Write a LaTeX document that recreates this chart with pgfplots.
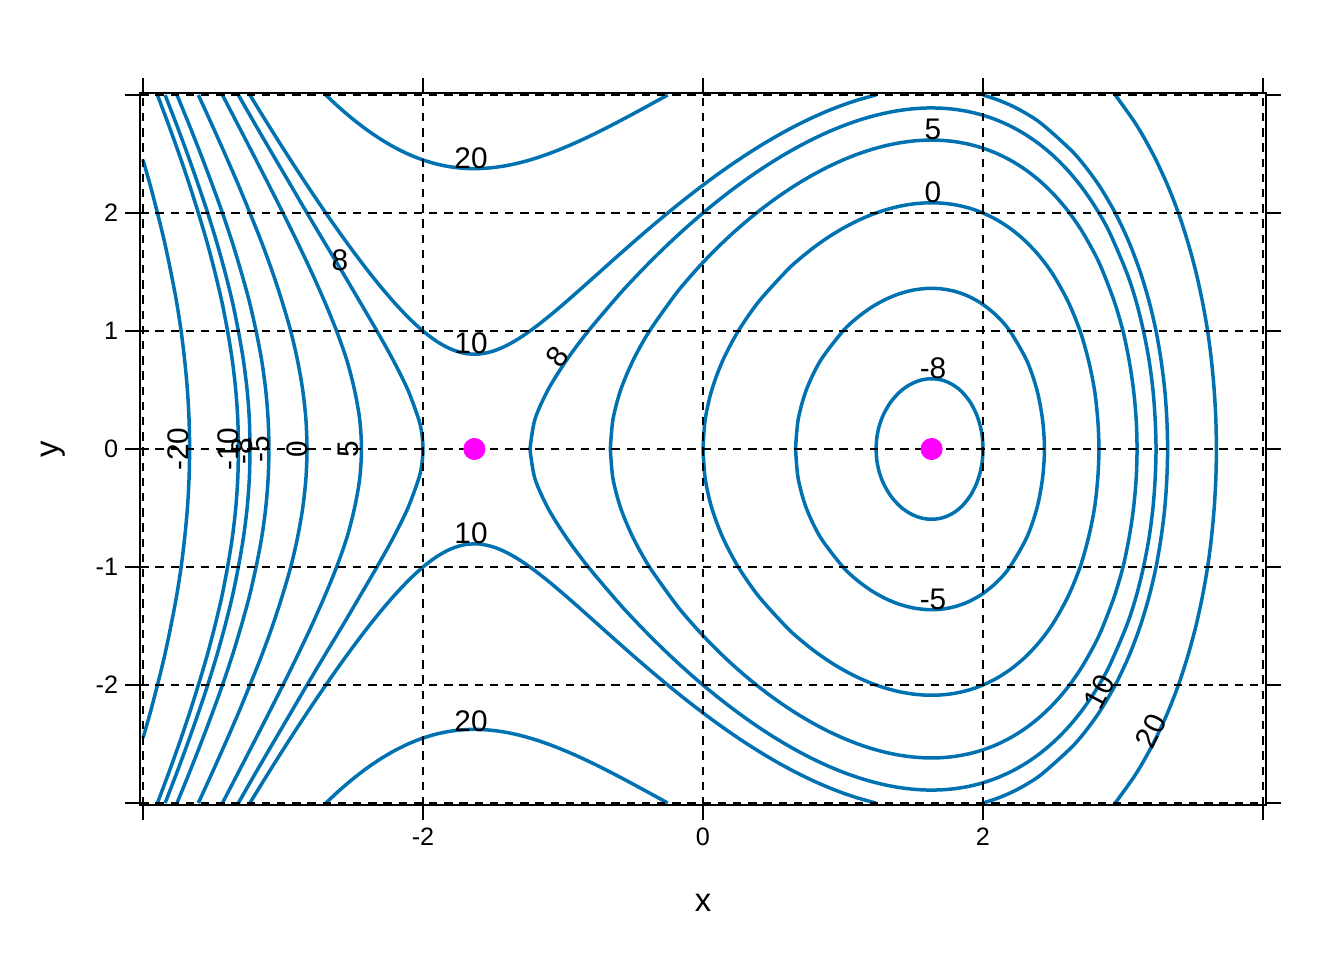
\documentclass[border=0pt]{standalone}
\usepackage{fontspec}
\setmainfont{Liberation Sans}
\usepackage{pgfplots}
\pgfplotsset{compat=1.18}
\definecolor{cblue}{HTML}{0072B2}
\definecolor{pmag}{RGB}{255,0,255}
\newcommand{\clab}{\fontsize{14.9}{16}\selectfont}
\begin{document}
\begin{tikzpicture}
\begin{axis}[
  at={(-281.4pt,-178.18pt)}, anchor=south west,
  x=70pt, y=59pt,
  xmin=-4.02, xmax=4.02, ymin=-3.02, ymax=3.02,
  axis on top,
  axis line style={black, line width=1pt},
  xtick={-4,-2,0,2,4}, xticklabels={,-2,0,2,},
  ytick={-3,-2,-1,0,1,2,3}, yticklabels={,-2,-1,0,1,2,},
  tick align=outside, tick pos=both,
  major tick length=7.5pt,
  every tick/.style={black, line width=1pt},
  grid=major,
  major grid style={black, line width=0.95pt, dash pattern=on 4.2pt off 3.4pt},
  ticklabel style={font=\fontsize{12.6}{14}\selectfont},
  xlabel={x}, ylabel={y},
  xlabel style={at={(axis description cs:0.5,-0.1361)}, anchor=center, font=\fontsize{16.4}{18}\selectfont},
  ylabel style={at={(axis description cs:-0.0775,0.5)}, anchor=center, rotate=0, font=\fontsize{16.4}{18}\selectfont},
  cont/.style={cblue, line width=1.75pt, smooth, no markers},
]
% c = -20
\addplot[cont] coordinates {(-4,2.449) (-3.9517,2.25) (-3.8967,2) (-3.8453,1.75) (-3.8008,1.5) (-3.7606,1.25) (-3.7277,1) (-3.7021,0.75) (-3.6827,0.5) (-3.6710,0.25) (-3.6671,0) (-3.6710,-0.25) (-3.6827,-0.5) (-3.7021,-0.75) (-3.7277,-1) (-3.7606,-1.25) (-3.8008,-1.5) (-3.8453,-1.75) (-3.8967,-2) (-3.9517,-2.25) (-4,-2.449)};
% c = -10
\addplot[cont] coordinates {(-3.8967,3) (-3.8179,2.75) (-3.7423,2.5) (-3.6710,2.25) (-3.6045,2) (-3.5419,1.75) (-3.4865,1.5) (-3.4368,1.25) (-3.3959,1) (-3.3619,0.75) (-3.3375,0.5) (-3.3229,0.25) (-3.3187,0) (-3.3229,-0.25) (-3.3375,-0.5) (-3.3619,-0.75) (-3.3959,-1) (-3.4368,-1.25) (-3.4865,-1.5) (-3.5419,-1.75) (-3.6045,-2) (-3.6710,-2.25) (-3.7423,-2.5) (-3.8179,-2.75) (-3.8967,-3)};
% c = -8 left
\addplot[cont] coordinates {(-3.8419,3) (-3.7606,2.75) (-3.6827,2.5) (-3.6084,2.25) (-3.5377,2) (-3.4729,1.75) (-3.4143,1.5) (-3.3619,1.25) (-3.3187,1) (-3.2826,0.75) (-3.2562,0.5) (-3.2404,0.25) (-3.2361,0) (-3.2404,-0.25) (-3.2562,-0.5) (-3.2826,-0.75) (-3.3187,-1) (-3.3619,-1.25) (-3.4143,-1.5) (-3.4729,-1.75) (-3.5377,-2) (-3.6084,-2.25) (-3.6827,-2.5) (-3.7606,-2.75) (-3.8419,-3)};
% c = -5 left
\addplot[cont] coordinates {(-3.7569,3) (-3.6710,2.75) (-3.5881,2.5) (-3.5084,2.25) (-3.4323,2) (-3.3619,1.75) (-3.2984,1.5) (-3.2404,1.25) (-3.1923,1) (-3.1521,0.75) (-3.1234,0.5) (-3.1062,0.25) (-3.1004,0) (-3.1062,-0.25) (-3.1234,-0.5) (-3.1521,-0.75) (-3.1923,-1) (-3.2404,-1.25) (-3.2984,-1.5) (-3.3619,-1.75) (-3.4323,-2) (-3.5084,-2.25) (-3.5881,-2.5) (-3.6710,-2.75) (-3.7569,-3)};
% c = 0 left
\addplot[cont] coordinates {(-3.6045,3) (-3.5084,2.75) (-3.4143,2.5) (-3.3229,2.25) (-3.2361,2) (-3.1521,1.75) (-3.0753,1.5) (-3.0063,1.25) (-2.9448,1) (-2.8961,0.75) (-2.8591,0.5) (-2.8362,0.25) (-2.8284,0) (-2.8362,-0.25) (-2.8591,-0.5) (-2.8961,-0.75) (-2.9448,-1) (-3.0063,-1.25) (-3.0753,-1.5) (-3.1521,-1.75) (-3.2361,-2) (-3.3229,-2.25) (-3.4143,-2.5) (-3.5084,-2.75) (-3.6045,-3)};
% c = 5 left
\addplot[cont] coordinates {(-3.4323,3) (-3.3229,2.75) (-3.2140,2.5) (-3.1062,2.25) (-3.0,2) (-2.8961,1.75) (-2.7965,1.5) (-2.7029,1.25) (-2.6171,1) (-2.5434,0.75) (-2.489,0.5) (-2.452,0.25) (-2.4393,0) (-2.452,-0.25) (-2.489,-0.5) (-2.5434,-0.75) (-2.6171,-1) (-2.7029,-1.25) (-2.7965,-1.5) (-2.8961,-1.75) (-3.0,-2) (-3.1062,-2.25) (-3.2140,-2.5) (-3.3229,-2.75) (-3.4323,-3)};
% c = 8 left
\addplot[cont] coordinates {(-3.3187,3) (-3.1980,2.75) (-3.0753,2.5) (-2.9517,2.25) (-2.8284,2) (-2.7029,1.75) (-2.5760,1.5) (-2.452,1.25) (-2.329,1) (-2.2115,0.75) (-2.1077,0.5) (-2.0303,0.25) (-2.0078,0.125) (-2,0) (-2.0078,-0.125) (-2.0303,-0.25) (-2.1077,-0.5) (-2.2115,-0.75) (-2.329,-1) (-2.452,-1.25) (-2.5760,-1.5) (-2.7029,-1.75) (-2.8284,-2) (-2.9517,-2.25) (-3.0753,-2.5) (-3.1980,-2.75) (-3.3187,-3)};
% c = 10 upper arc
\addplot[cont] coordinates {(-3.2361,3) (-3.2,2.9299) (-3.1,2.7378) (-3.0,2.5495) (-2.9,2.3653) (-2.8,2.1854) (-2.7,2.0104) (-2.6,1.8407) (-2.5,1.6771) (-2.4,1.5205) (-2.3,1.3724) (-2.2,1.2345) (-2.1,1.1093) (-2.0,1) (-1.9,0.9108) (-1.8,0.8462) (-1.7,0.8102) (-1.6,0.8050) (-1.5,0.8292) (-1.4,0.8786) (-1.3,0.9479) (-1.2,1.0315) (-1.1,1.1249) (-1.0,1.2247) (-0.9,1.3283) (-0.8,1.4339) (-0.7,1.5400) (-0.6,1.6456) (-0.5,1.75) (-0.4,1.8526) (-0.3,1.9528) (-0.2,2.0504) (-0.1,2.1449) (0,2.2361) (0.1,2.3237) (0.2,2.4075) (0.3,2.4873) (0.4,2.5628) (0.5,2.6339) (0.6,2.7004) (0.7,2.7620) (0.8,2.8185) (0.9,2.8698) (1.0,2.9155) (1.1,2.9554) (1.2,2.9893) (1.2361,3)};
% c = 10 lower arc
\addplot[cont] coordinates {(-3.2361,-3) (-3.2,-2.9299) (-3.1,-2.7378) (-3.0,-2.5495) (-2.9,-2.3653) (-2.8,-2.1854) (-2.7,-2.0104) (-2.6,-1.8407) (-2.5,-1.6771) (-2.4,-1.5205) (-2.3,-1.3724) (-2.2,-1.2345) (-2.1,-1.1093) (-2.0,-1) (-1.9,-0.9108) (-1.8,-0.8462) (-1.7,-0.8102) (-1.6,-0.8050) (-1.5,-0.8292) (-1.4,-0.8786) (-1.3,-0.9479) (-1.2,-1.0315) (-1.1,-1.1249) (-1.0,-1.2247) (-0.9,-1.3283) (-0.8,-1.4339) (-0.7,-1.5400) (-0.6,-1.6456) (-0.5,-1.75) (-0.4,-1.8526) (-0.3,-1.9528) (-0.2,-2.0504) (-0.1,-2.1449) (0,-2.2361) (0.1,-2.3237) (0.2,-2.4075) (0.3,-2.4873) (0.4,-2.5628) (0.5,-2.6339) (0.6,-2.7004) (0.7,-2.7620) (0.8,-2.8185) (0.9,-2.8698) (1.0,-2.9155) (1.1,-2.9554) (1.2,-2.9893) (1.2361,-3)};
% c = 20 upper arc
\addplot[cont] coordinates {(-2.6937,3) (-2.6,2.8962) (-2.5,2.7951) (-2.4,2.7041) (-2.3,2.6237) (-2.2,2.5542) (-2.1,2.4961) (-2.0,2.4495) (-1.9,2.4144) (-1.8,2.3908) (-1.7,2.3783) (-1.6,2.3765) (-1.5,2.3849) (-1.4,2.4025) (-1.3,2.4287) (-1.2,2.4625) (-1.1,2.5031) (-1.0,2.5495) (-0.9,2.6009) (-0.8,2.6563) (-0.7,2.7151) (-0.6,2.7763) (-0.5,2.8395) (-0.4,2.9038) (-0.3,2.9687) (-0.2522,3)};
% c = 20 lower arc
\addplot[cont] coordinates {(-2.6937,-3) (-2.6,-2.8962) (-2.5,-2.7951) (-2.4,-2.7041) (-2.3,-2.6237) (-2.2,-2.5542) (-2.1,-2.4961) (-2.0,-2.4495) (-1.9,-2.4144) (-1.8,-2.3908) (-1.7,-2.3783) (-1.6,-2.3765) (-1.5,-2.3849) (-1.4,-2.4025) (-1.3,-2.4287) (-1.2,-2.4625) (-1.1,-2.5031) (-1.0,-2.5495) (-0.9,-2.6009) (-0.8,-2.6563) (-0.7,-2.7151) (-0.6,-2.7763) (-0.5,-2.8395) (-0.4,-2.9038) (-0.3,-2.9687) (-0.2522,-3)};
% c = 10 right
\addplot[cont] coordinates {(2,3) (2.1,2.9613) (2.2,2.9114) (2.3,2.8490) (2.4251,2.75) (2.6554,2.5) (2.8197,2.25) (2.9448,2) (3.0439,1.75) (3.1234,1.5) (3.1865,1.25) (3.2361,1) (3.2721,0.75) (3.2984,0.5) (3.3132,0.25) (3.3187,0) (3.3132,-0.25) (3.2984,-0.5) (3.2721,-0.75) (3.2361,-1) (3.1865,-1.25) (3.1234,-1.5) (3.0439,-1.75) (2.9448,-2) (2.8197,-2.25) (2.6554,-2.5) (2.4251,-2.75) (2.3,-2.8490) (2.2,-2.9114) (2.1,-2.9613) (2,-3)};
% c = 20 right
\addplot[cont] coordinates {(2.9448,3) (3.0942,2.75) (3.2140,2.5) (3.3132,2.25) (3.3959,2) (3.4639,1.75) (3.5210,1.5) (3.5671,1.25) (3.6045,1) (3.6319,0.75) (3.6514,0.5) (3.6632,0.25) (3.6671,0) (3.6632,-0.25) (3.6514,-0.5) (3.6319,-0.75) (3.6045,-1) (3.5671,-1.25) (3.5210,-1.5) (3.4639,-1.75) (3.3959,-2) (3.3132,-2.25) (3.2140,-2.5) (3.0942,-2.75) (2.9448,-3)};
% c = 8 closed
\addplot[cont] coordinates {(-1.2361,0) (-1.2008,0.25) (-1.1077,0.5) (-0.9764,0.75) (-0.8192,1) (-0.6,1.3069) (-0.5,1.4361) (-0.4,1.5595) (-0.3,1.6774) (-0.2,1.7900) (-0.1,1.8975) (0,2) (0.1,2.0975) (0.2,2.1900) (0.3,2.2774) (0.4,2.3597) (0.5,2.4367) (0.6,2.5084) (0.7,2.5746) (0.8,2.6351) (0.9,2.6899) (1.0,2.7386) (1.1,2.7811) (1.2,2.8171) (1.3,2.8463) (1.4,2.8685) (1.5,2.8831) (1.6,2.8900) (1.7,2.8885) (1.8,2.8782) (1.9,2.8584) (2.0,2.8284) (2.1,2.7874) (2.2,2.7342) (2.3,2.6677) (2.4,2.5861) (2.5,2.4875) (2.6,2.3690) (2.7,2.2268) (2.8,2.0553) (2.9,1.8454) (3.0251,1.5) (3.0942,1.25) (3.1463,1) (3.1865,0.75) (3.2140,0.5) (3.2298,0.25) (3.2361,0) (3.2298,-0.25) (3.2140,-0.5) (3.1865,-0.75) (3.1463,-1) (3.0942,-1.25) (3.0251,-1.5) (2.9,-1.8454) (2.8,-2.0553) (2.7,-2.2268) (2.6,-2.3690) (2.5,-2.4875) (2.4,-2.5861) (2.3,-2.6677) (2.2,-2.7342) (2.1,-2.7874) (2.0,-2.8284) (1.9,-2.8584) (1.8,-2.8782) (1.7,-2.8885) (1.6,-2.8900) (1.5,-2.8831) (1.4,-2.8685) (1.3,-2.8463) (1.2,-2.8171) (1.1,-2.7811) (1.0,-2.7386) (0.9,-2.6899) (0.8,-2.6351) (0.7,-2.5746) (0.6,-2.5084) (0.5,-2.4367) (0.4,-2.3597) (0.3,-2.2774) (0.2,-2.1900) (0.1,-2.0975) (0,-2) (-0.1,-1.8975) (-0.2,-1.7900) (-0.3,-1.6774) (-0.4,-1.5595) (-0.5,-1.4361) (-0.6,-1.3069) (-0.8192,-1) (-0.9764,-0.75) (-1.1077,-0.5) (-1.2008,-0.25) (-1.2361,0)};
% c = 5 closed
\addplot[cont] coordinates {(-0.6618,0) (-0.6432,0.25) (-0.5882,0.5) (-0.5,0.75) (-0.3822,1) (-0.2,1.3054) (-0.1,1.4493) (0,1.5811) (0.1,1.7028) (0.2,1.8155) (0.3,1.9200) (0.4,2.0169) (0.5,2.1065) (0.6,2.1891) (0.7,2.2646) (0.8,2.3332) (0.9,2.3949) (1.0,2.4495) (1.1,2.4969) (1.2,2.5369) (1.3,2.5693) (1.4,2.5938) (1.5,2.6101) (1.6,2.6176) (1.7,2.6160) (1.8,2.6046) (1.9,2.5827) (2.0,2.5495) (2.1,2.5039) (2.2,2.4446) (2.3,2.3699) (2.4,2.2777) (2.5,2.1651) (2.6,2.0278) (2.7,1.8597) (2.8,1.6505) (2.8579,1.5) (2.9379,1.25) (3.0,1) (3.0439,0.75) (3.0753,0.5) (3.0942,0.25) (3.1004,0) (3.0942,-0.25) (3.0753,-0.5) (3.0439,-0.75) (3.0,-1) (2.9379,-1.25) (2.8579,-1.5) (2.8,-1.6505) (2.7,-1.8597) (2.6,-2.0278) (2.5,-2.1651) (2.4,-2.2777) (2.3,-2.3699) (2.2,-2.4446) (2.1,-2.5039) (2.0,-2.5495) (1.9,-2.5827) (1.8,-2.6046) (1.7,-2.6160) (1.6,-2.6176) (1.5,-2.6101) (1.4,-2.5938) (1.3,-2.5693) (1.2,-2.5369) (1.1,-2.4969) (1.0,-2.4495) (0.9,-2.3949) (0.8,-2.3332) (0.7,-2.2646) (0.6,-2.1891) (0.5,-2.1065) (0.4,-2.0169) (0.3,-1.9200) (0.2,-1.8155) (0.1,-1.7028) (0,-1.5811) (-0.1,-1.4493) (-0.2,-1.3054) (-0.3822,-1) (-0.5,-0.75) (-0.5882,-0.5) (-0.6432,-0.25) (-0.6618,0)};
% c = 0 closed
\addplot[cont] coordinates {(0,0) (0.0156,0.25) (0.0626,0.5) (0.1411,0.75) (0.2522,1) (0.3986,1.25) (0.6,1.5139) (0.7,1.6213) (0.8,1.7158) (0.9,1.7987) (1.0,1.8708) (1.1,1.9325) (1.2,1.9839) (1.3,2.0252) (1.4,2.0562) (1.5,2.0767) (1.6,2.0862) (1.7,2.0841) (1.8,2.0698) (1.9,2.0422) (2.0,2) (2.1,1.9415) (2.2,1.8644) (2.3,1.7654) (2.4,1.6395) (2.5,1.4790) (2.6076,1.25) (2.6937,1) (2.7539,0.75) (2.7965,0.5) (2.8197,0.25) (2.8284,0) (2.8197,-0.25) (2.7965,-0.5) (2.7539,-0.75) (2.6937,-1) (2.6076,-1.25) (2.5,-1.4790) (2.4,-1.6395) (2.3,-1.7654) (2.2,-1.8644) (2.1,-1.9415) (2.0,-2) (1.9,-2.0422) (1.8,-2.0698) (1.7,-2.0841) (1.6,-2.0862) (1.5,-2.0767) (1.4,-2.0562) (1.3,-2.0252) (1.2,-1.9839) (1.1,-1.9325) (1.0,-1.8708) (0.9,-1.7987) (0.8,-1.7158) (0.7,-1.6213) (0.6,-1.5139) (0.3986,-1.25) (0.2522,-1) (0.1411,-0.75) (0.0626,-0.5) (0.0156,-0.25) (0,0)};
% c = -5 closed
\addplot[cont] coordinates {(0.6611,0) (0.6799,0.25) (0.7376,0.5) (0.8395,0.75) (1.0,1) (1.1,1.1111) (1.2,1.1983) (1.3,1.2655) (1.4,1.3145) (1.5,1.3463) (1.6,1.3609) (1.7,1.3578) (1.8,1.3357) (1.9,1.2925) (2.0,1.2247) (2.1,1.1267) (2.1918,1) (2.3126,0.75) (2.3855,0.5) (2.4251,0.25) (2.4393,0) (2.4251,-0.25) (2.3855,-0.5) (2.3126,-0.75) (2.1918,-1) (2.1,-1.1267) (2.0,-1.2247) (1.9,-1.2925) (1.8,-1.3357) (1.7,-1.3578) (1.6,-1.3609) (1.5,-1.3463) (1.4,-1.3145) (1.3,-1.2655) (1.2,-1.1983) (1.1,-1.1111) (1.0,-1) (0.8395,-0.75) (0.7376,-0.5) (0.6799,-0.25) (0.6611,0)};
% c = -8 closed
\addplot[cont] coordinates {(1.2361,0) (1.2420,0.1) (1.2601,0.2) (1.2923,0.3) (1.3424,0.4) (1.4,0.4775) (1.45,0.5251) (1.5,0.5590) (1.55,0.5815) (1.6,0.5933) (1.65,0.5949) (1.7,0.5861) (1.75,0.5660) (1.8,0.5329) (1.85,0.4839) (1.9073,0.4) (1.9515,0.3) (1.9794,0.2) (1.9950,0.1) (2,0) (1.9950,-0.1) (1.9794,-0.2) (1.9515,-0.3) (1.9073,-0.4) (1.85,-0.4839) (1.8,-0.5329) (1.75,-0.5660) (1.7,-0.5861) (1.65,-0.5949) (1.6,-0.5933) (1.55,-0.5815) (1.5,-0.5590) (1.45,-0.5251) (1.4,-0.4775) (1.3424,-0.4) (1.2923,-0.3) (1.2601,-0.2) (1.2420,-0.1) (1.2361,0)};
% critical points
\addplot[only marks, mark=*, mark size=5.3pt, mark options={draw=pmag, fill=pmag}] coordinates {(-1.633,0) (1.633,0)};
% contour labels
\node[font=\clab, inner sep=0pt] at (axis cs:-1.657,2.466) {20};
\node[font=\clab, inner sep=0pt] at (axis cs:-1.657,-2.305) {20};
\node[font=\clab, inner sep=0pt] at (axis cs:-1.657,0.898) {10};
\node[font=\clab, inner sep=0pt] at (axis cs:-1.657,-0.712) {10};
\node[font=\clab, inner sep=0pt] at (axis cs:-2.593,1.602) {8};
\node[font=\clab, inner sep=0pt, rotate=53] at (axis cs:-1.043,0.780) {8};
\node[font=\clab, inner sep=0pt] at (axis cs:1.643,2.712) {5};
\node[font=\clab, inner sep=0pt] at (axis cs:1.643,2.178) {0};
\node[font=\clab, inner sep=0pt] at (axis cs:1.643,0.686) {-8};
\node[font=\clab, inner sep=0pt] at (axis cs:1.643,-1.271) {-5};
\node[font=\clab, inner sep=0pt, rotate=62] at (axis cs:2.830,-2.060) {10};
\node[font=\clab, inner sep=0pt, rotate=64] at (axis cs:3.200,-2.390) {20};
\node[font=\clab, inner sep=0pt, rotate=90] at (axis cs:-3.75,0) {-20};
\node[font=\clab, inner sep=0pt, rotate=90] at (axis cs:-3.393,0) {-10};
\node[font=\clab, inner sep=0pt, rotate=90] at (axis cs:-3.293,-0.02) {-8};
\node[font=\clab, inner sep=0pt, rotate=90] at (axis cs:-3.171,0) {-5};
\node[font=\clab, inner sep=0pt, rotate=90] at (axis cs:-2.90,0) {0};
\node[font=\clab, inner sep=0pt, rotate=90] at (axis cs:-2.536,0) {5};
\end{axis}
\pgfresetboundingbox
\path[use as bounding box] (-351.5pt,-255.5pt) rectangle (320.5pt,224.5pt);
\end{tikzpicture}
\end{document}
